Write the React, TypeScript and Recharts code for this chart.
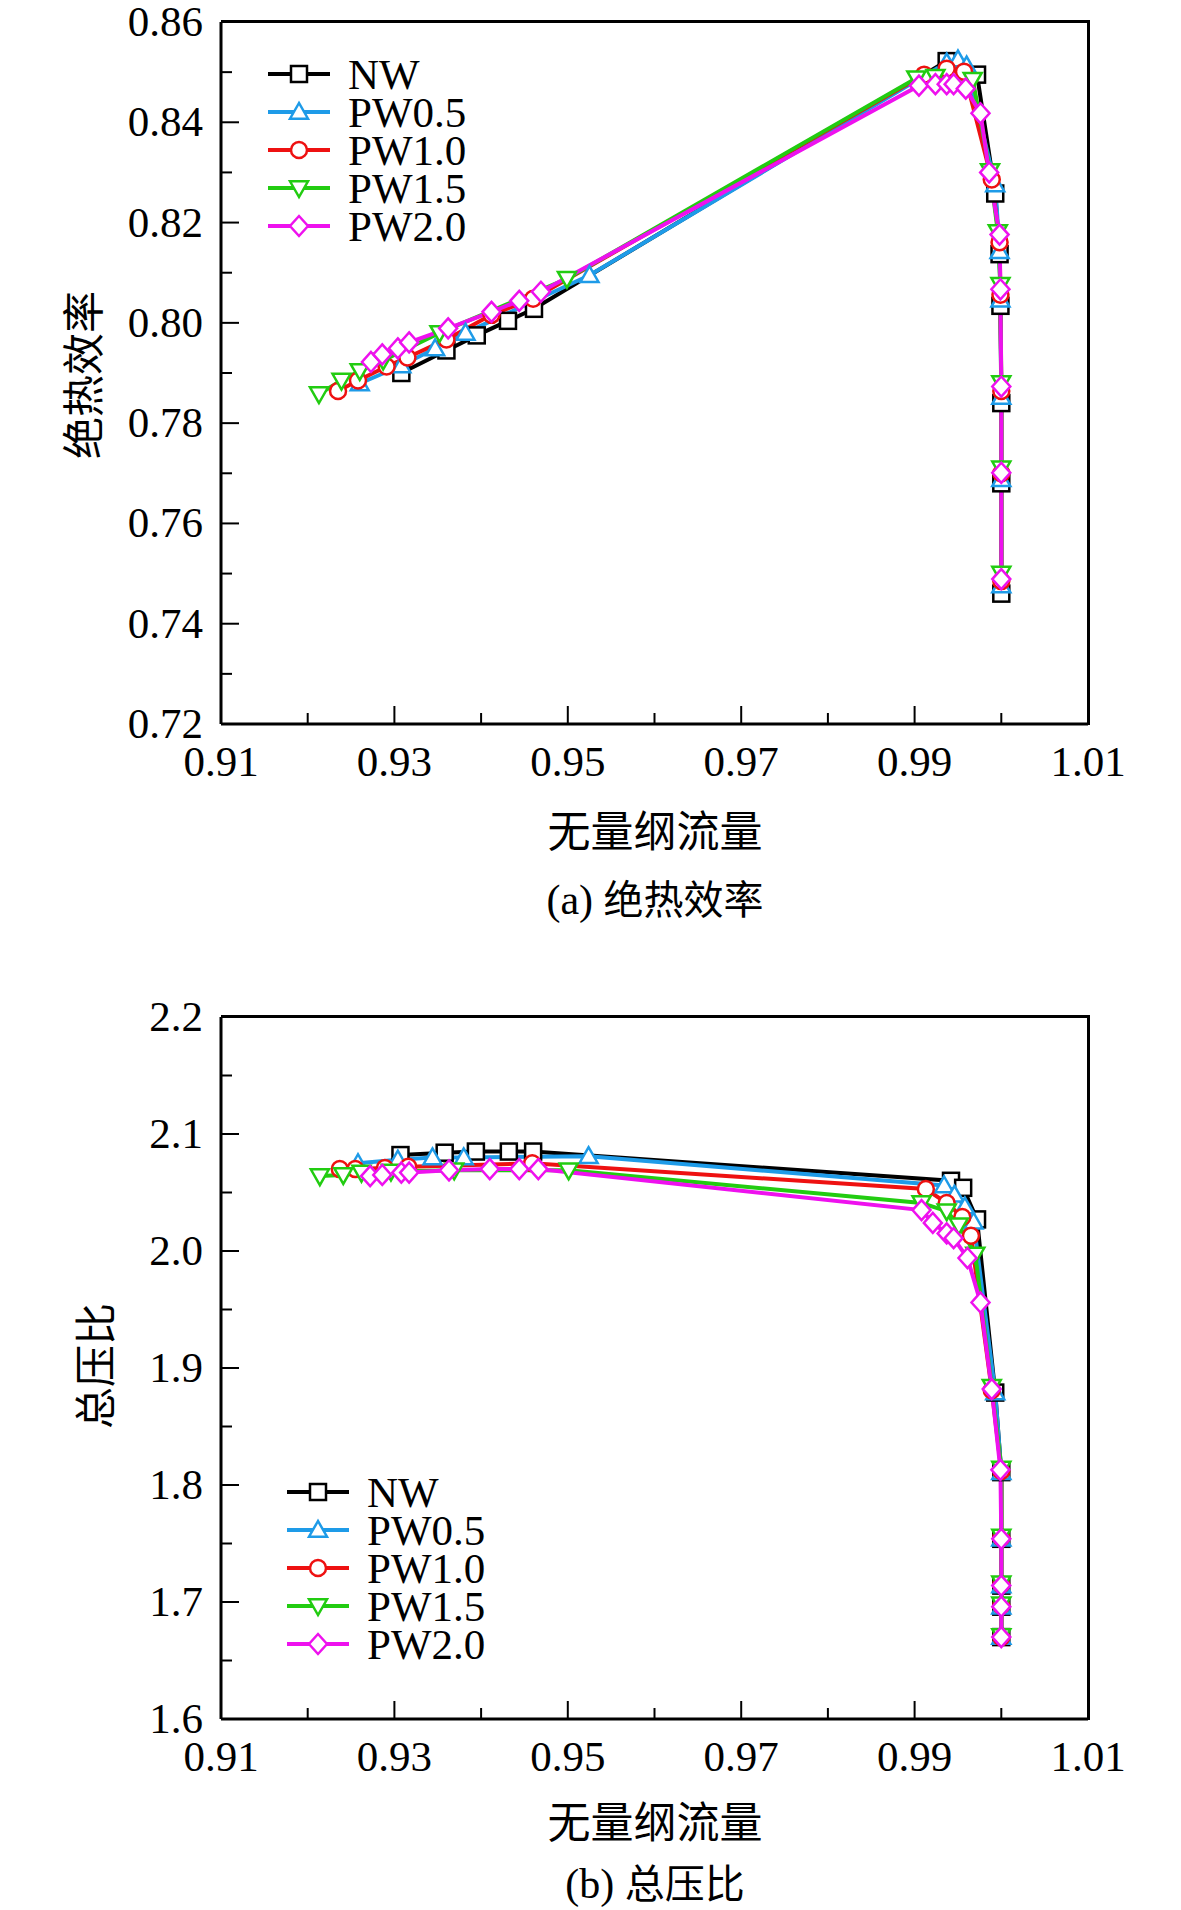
import React from 'react';
import { LineChart, Line, XAxis, YAxis } from 'recharts';

const seriesNames = ['NW', 'PW0.5', 'PW1.0', 'PW1.5', 'PW2.0'];
const seriesColors = ['#000000', '#1e9be8', '#ee1111', '#22cc11', '#ee11ee'];
const shapes = ['square', 'triangle', 'circle', 'triangleDown', 'diamond'];

const xTicks = [0.91, 0.92, 0.93, 0.94, 0.95, 0.96, 0.97, 0.98, 0.99, 1.0, 1.01];
const effTicks = [0.72, 0.73, 0.74, 0.75, 0.76, 0.77, 0.78, 0.79, 0.8, 0.81, 0.82, 0.83, 0.84, 0.85, 0.86];
const prTicks = [1.6, 1.65, 1.7, 1.75, 1.8, 1.85, 1.9, 1.95, 2.0, 2.05, 2.1, 2.15, 2.2];

// (a) adiabatic efficiency
const effNwX = [0.9308, 0.936, 0.9395, 0.9431, 0.9461, 0.9937, 0.9972, 0.9993, 0.9998, 0.9999, 1.0, 1.0, 1.0];
const effNwY = [0.790, 0.7945, 0.7975, 0.8004, 0.8028, 0.8522, 0.8495, 0.8258, 0.8137, 0.8034, 0.784, 0.768, 0.746];
const effP05X = [0.926, 0.9308, 0.9347, 0.9382, 0.9525, 0.9937, 0.995, 0.996, 0.9993, 0.9998, 0.9999, 1.0, 1.0, 1.0];
const effP05Y = [0.7879, 0.7915, 0.7949, 0.798, 0.8095, 0.8519, 0.8525, 0.8513, 0.8276, 0.8143, 0.8046, 0.7852, 0.7688, 0.7476];
const effP10X = [0.9235, 0.9258, 0.9291, 0.9315, 0.936, 0.9412, 0.946, 0.9911, 0.9937, 0.9957, 0.9989, 0.9998, 0.9999, 1.0, 1.0, 1.0];
const effP10Y = [0.7864, 0.7885, 0.7913, 0.7931, 0.7967, 0.8016, 0.8048, 0.8495, 0.8507, 0.8501, 0.8286, 0.8161, 0.8056, 0.7864, 0.77, 0.7485];
const effP15X = [0.9213, 0.9239, 0.926, 0.9287, 0.9352, 0.9499, 0.9902, 0.9924, 0.9967, 0.9987, 0.9996, 0.9999, 1.0, 1.0, 1.0];
const effP15Y = [0.7858, 0.7885, 0.7904, 0.7925, 0.798, 0.8088, 0.8488, 0.8491, 0.8485, 0.8303, 0.8181, 0.8076, 0.788, 0.771, 0.75];
const effP20X = [0.9273, 0.9286, 0.9304, 0.9317, 0.9362, 0.9412, 0.9444, 0.9469, 0.9905, 0.9924, 0.9937, 0.9945, 0.9959, 0.9976, 0.9986, 0.9998, 0.9999, 1.0, 1.0, 1.0];
const effP20Y = [0.7922, 0.7937, 0.7949, 0.7961, 0.7989, 0.8022, 0.8044, 0.8062, 0.8473, 0.8476, 0.8476, 0.8476, 0.8467, 0.8418, 0.83, 0.8176, 0.8067, 0.7873, 0.7701, 0.7489];

// (b) total pressure ratio
const prNwX = [0.9307, 0.9358, 0.9394, 0.9432, 0.946, 0.9942, 0.9956, 0.9972, 0.9993, 1.0, 1.0, 1.0, 1.0, 1.0];
const prNwY = [2.082, 2.084, 2.085, 2.085, 2.085, 2.06, 2.054, 2.027, 1.879, 1.811, 1.754, 1.714, 1.696, 1.67];
const prP05X = [0.9258, 0.9304, 0.9344, 0.938, 0.9524, 0.9934, 0.9946, 0.9958, 0.9968, 0.9993, 1.0, 1.0, 1.0, 1.0, 1.0];
const prP05Y = [2.075, 2.078, 2.08, 2.08, 2.081, 2.056, 2.048, 2.038, 2.025, 1.879, 1.811, 1.754, 1.714, 1.696, 1.67];
const prP10X = [0.9237, 0.9255, 0.9289, 0.9316, 0.9459, 0.9913, 0.9937, 0.9955, 0.9965, 0.9989, 1.0, 1.0, 1.0, 1.0, 1.0];
const prP10Y = [2.07, 2.07, 2.071, 2.072, 2.075, 2.053, 2.041, 2.029, 2.013, 1.881, 1.812, 1.755, 1.715, 1.697, 1.67];
const prP15X = [0.9214, 0.9241, 0.9262, 0.9296, 0.9369, 0.9501, 0.9908, 0.9937, 0.9951, 0.997, 0.9989, 1.0, 1.0, 1.0, 1.0, 1.0];
const prP15Y = [2.064, 2.065, 2.067, 2.068, 2.069, 2.069, 2.041, 2.034, 2.022, 1.997, 1.884, 1.814, 1.756, 1.716, 1.698, 1.671];
const prP20X = [0.9272, 0.9286, 0.9308, 0.9317, 0.9363, 0.941, 0.9444, 0.9466, 0.9908, 0.9921, 0.9937, 0.9945, 0.9961, 0.9976, 0.9989, 0.9999, 1.0, 1.0, 1.0, 1.0];
const prP20Y = [2.064, 2.065, 2.067, 2.067, 2.069, 2.07, 2.07, 2.07, 2.035, 2.024, 2.015, 2.011, 1.994, 1.956, 1.882, 1.813, 1.754, 1.714, 1.696, 1.67];

const zip = (xs: number[], ys: number[]) => xs.map((x, i) => ({ x, y: ys[i] }));
const effData = [zip(effNwX, effNwY), zip(effP05X, effP05Y), zip(effP10X, effP10Y), zip(effP15X, effP15Y), zip(effP20X, effP20Y)];
const prData = [zip(prNwX, prNwY), zip(prP05X, prP05Y), zip(prP10X, prP10Y), zip(prP15X, prP15Y), zip(prP20X, prP20Y)];

const serif = '"Liberation Serif", "Times New Roman", serif';
const cjk = '"Noto Sans CJK SC", sans-serif';

function Marker({ cx, cy, shape, color, r = 9 }: any) {
  if (cx == null || cy == null) return null;
  const p = { fill: '#fff', stroke: color, strokeWidth: 2.5 };
  if (shape === 'square') return <rect x={cx - r + 1} y={cy - r + 1} width={2 * r - 2} height={2 * r - 2} {...p} />;
  if (shape === 'circle') return <circle cx={cx} cy={cy} r={r - 1} {...p} />;
  if (shape === 'triangle') return <polygon points={`${cx},${cy - r} ${cx - r},${cy + r * 0.75} ${cx + r},${cy + r * 0.75}`} {...p} />;
  if (shape === 'triangleDown') return <polygon points={`${cx},${cy + r} ${cx - r},${cy - r * 0.75} ${cx + r},${cy - r * 0.75}`} {...p} />;
  return <polygon points={`${cx},${cy - r - 1} ${cx + r},${cy} ${cx},${cy + r + 1} ${cx - r},${cy}`} {...p} />;
}

const XTick = ({ x, y, payload }: any) => {
  const k = Math.round((payload.value - 0.91) / 0.01);
  const major = k % 2 === 0;
  return (
    <g>
      <line x1={x} x2={x} y1={y} y2={y - (major ? 18 : 11)} stroke="#000" strokeWidth={2} />
      {major && (
        <text x={x} y={y + 52} textAnchor="middle" fontFamily={serif} fontSize={43} fill="#000">
          {payload.value.toFixed(2)}
        </text>
      )}
    </g>
  );
};

const makeYTick = (base: number, step: number, digits: number) => ({ x, y, payload }: any) => {
  const k = Math.round((payload.value - base) / step);
  const major = k % 2 === 0;
  return (
    <g>
      <line x1={x} x2={x + (major ? 18 : 11)} y1={y} y2={y} stroke="#000" strokeWidth={2} />
      {major && (
        <text x={x - 18} y={y + 14} textAnchor="end" fontFamily={serif} fontSize={43} fill="#000">
          {payload.value.toFixed(digits)}
        </text>
      )}
    </g>
  );
};

function Legend({ left, top }: { left: number; top: number }) {
  return (
    <svg width={280} height={200} style={{ position: 'absolute', left, top }}>
      {seriesNames.map((n, i) => (
        <g key={n}>
          <line x1={0} x2={62} y1={20 + i * 38} y2={20 + i * 38} stroke={seriesColors[i]} strokeWidth={4} />
          <Marker cx={31} cy={20 + i * 38} shape={shapes[i]} color={seriesColors[i]} />
          <text x={80} y={35 + i * 38} fontFamily={serif} fontSize={43} fill="#000">{n}</text>
        </g>
      ))}
    </svg>
  );
}

function Panel({ data, ticks, domain, yTick, top }: any) {
  return (
    <div style={{ position: 'absolute', left: 0, top }}>
      <LineChart width={1181} height={785} margin={{ top: 22, right: 93, left: 0, bottom: 0 }}>
        <XAxis type="number" dataKey="x" domain={[0.91, 1.01]} ticks={xTicks} allowDataOverflow
          tick={<XTick />} tickLine={false} tickSize={0} tickMargin={0} height={61} axisLine={{ stroke: '#000', strokeWidth: 3 }} interval={0} />
        <YAxis type="number" dataKey="y" domain={domain} ticks={ticks} allowDataOverflow interval={0}
          tick={yTick} tickLine={false} tickSize={0} tickMargin={0} width={221} axisLine={{ stroke: '#000', strokeWidth: 3 }} />
        {data.map((d: any, i: number) => (
          <Line key={seriesNames[i]} data={d} dataKey="y" type="linear" stroke={seriesColors[i]} strokeWidth={4}
            isAnimationActive={false} dot={(p: any) => <Marker key={p.index} cx={p.cx} cy={p.cy} shape={shapes[i]} color={seriesColors[i]} />} />
        ))}
      </LineChart>
      <div style={{ position: 'absolute', left: 221, top: 20, width: 866, height: 702, borderTop: '3px solid #000', borderRight: '3px solid #000', pointerEvents: 'none' }} />
    </div>
  );
}

export default function App() {
  return (
    <div style={{ position: 'absolute', left: 0, top: 0, width: 1181, height: 1910, background: '#fff' }}>
      <Panel data={effData} ticks={effTicks} domain={[0.72, 0.86]} yTick={makeYTick(0.72, 0.01, 2)} top={0} />
      <Panel data={prData} ticks={prTicks} domain={[1.6, 2.2]} yTick={makeYTick(1.6, 0.05, 1)} top={995} />
      <Legend left={268} top={54} />
      <Legend left={287} top={1472} />
      <div style={{ position: 'absolute', left: 0, top: 798, width: 1310, textAlign: 'center', fontFamily: cjk, fontSize: 43, lineHeight: '60px' }}>无量纲流量</div>
      <div style={{ position: 'absolute', left: 0, top: 868, width: 1310, textAlign: 'center', fontFamily: cjk, fontSize: 40, lineHeight: '58px' }}>
        <span style={{ fontFamily: serif, fontSize: 42 }}>(a) </span>绝热效率</div>
      <div style={{ position: 'absolute', left: 0, top: 1789, width: 1310, textAlign: 'center', fontFamily: cjk, fontSize: 43, lineHeight: '60px' }}>无量纲流量</div>
      <div style={{ position: 'absolute', left: 0, top: 1852, width: 1310, textAlign: 'center', fontFamily: cjk, fontSize: 40, lineHeight: '58px' }}>
        <span style={{ fontFamily: serif, fontSize: 42 }}>(b) </span>总压比</div>
      <div style={{ position: 'absolute', left: 80, top: 375, transform: 'translate(-50%, -50%) rotate(-90deg)', fontFamily: cjk, fontSize: 42, whiteSpace: 'nowrap' }}>绝热效率</div>
      <div style={{ position: 'absolute', left: 92, top: 1366, transform: 'translate(-50%, -50%) rotate(-90deg)', fontFamily: cjk, fontSize: 42, whiteSpace: 'nowrap' }}>总压比</div>
    </div>
  );
}
